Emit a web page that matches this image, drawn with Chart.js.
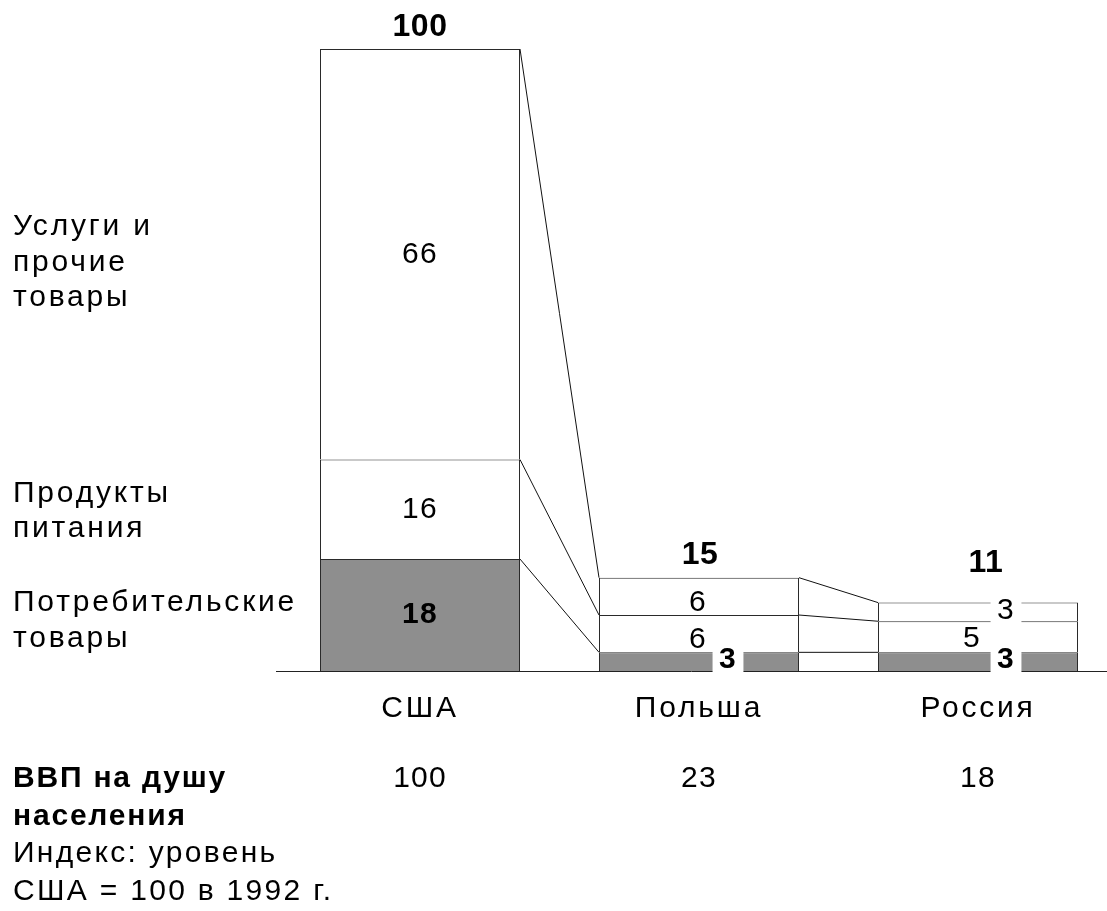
<!DOCTYPE html>
<html lang="ru">
<head>
<meta charset="utf-8">
<title>Потребление на душу населения</title>
<script src="https://cdn.jsdelivr.net/npm/chart.js@4.4.1/dist/chart.umd.min.js"></script>
<style>
  html, body { margin: 0; padding: 0; background: #fff; }
  #wrap { width: 1107px; height: 911px; position: relative; }
</style>
</head>
<body>
<div id="wrap"><canvas id="chart"></canvas></div>
<script>
// --- data ---
const countries = ['США', 'Польша', 'Россия'];
const consumerGoods = [18, 3, 3];
const food = [16, 6, 5];
const services = [66, 6, 3];
const totals = [100, 15, 11];
const gdpPerCapita = [100, 23, 18];
const segmentNames = [
    ['Потребительские', 'товары'],
    ['Продукты', 'питания'],
    ['Услуги и', 'прочие', 'товары']
];
const noteBold = ['ВВП на душу', 'населения'];
const noteText = ['Индекс: уровень', 'США = 100 в 1992 г.'];

// --- look ---
const FONT = '"Liberation Sans", Arial, Helvetica, sans-serif';
const GREY = '#8e8e8e';
const EDGE = '#2a2a2a';
const WORD_GAP = '2.8px';   // the original type is set a bit loose
const DIGIT_GAP = '1.2px';

// label nudges per bar / segment: [dx, dy, white box]
const nudge = [
    [[0, 0, false], [0, 0, false], [0, 0, false]],
    [[29, -2, true], [-1, 6, false], [-1, 6, false]],
    [[28, -2, true], [-6, 2, false], [28, -1, true]]
];
const totalNudge = [[0, -22], [1, -23], [8, -39]];
const nameNudge = [5.5, 2, 8];

const overlay = {
    id: 'overlay',
    beforeDraw(chart) {
        // tick labels pick this up
        chart.ctx.letterSpacing = WORD_GAP;
    },
    beforeDatasetsDraw(chart) {
        const ctx = chart.ctx;
        const y0 = Math.round(chart.scales.y.getPixelForValue(0));
        ctx.save();
        ctx.strokeStyle = '#222';
        ctx.lineWidth = 1;
        ctx.beginPath();
        ctx.moveTo(276, y0 + 0.5);
        ctx.lineTo(chart.width, y0 + 0.5);
        ctx.stroke();
        ctx.restore();
    },
    afterDatasetsDraw(chart) {
        const ctx = chart.ctx;
        const metas = [0, 1, 2].map(d => chart.getDatasetMeta(d));
        ctx.save();

        // connector lines between neighbouring bars
        ctx.strokeStyle = '#111';
        ctx.lineWidth = 1;
        for (let i = 0; i < countries.length - 1; i++) {
            metas.forEach(m => {
                const a = m.data[i], b = m.data[i + 1];
                ctx.beginPath();
                ctx.moveTo(a.x + a.width / 2, a.y);
                ctx.lineTo(b.x - b.width / 2, b.y);
                ctx.stroke();
            });
        }

        // segment values
        ctx.textAlign = 'center';
        ctx.textBaseline = 'middle';
        ctx.letterSpacing = DIGIT_GAP;
        const series = [consumerGoods, food, services];
        series.forEach((vals, d) => {
            vals.forEach((v, i) => {
                const el = metas[d].data[i];
                const [dx, dy, boxed] = nudge[i][d];
                const cx = el.x + dx, cy = (el.y + el.base) / 2 + dy;
                ctx.font = (d === 0 ? 'bold ' : '') + '30px ' + FONT;
                if (boxed) {
                    const w = ctx.measureText(String(v)).width + 13;
                    ctx.fillStyle = '#fff';
                    ctx.fillRect(cx - w / 2, cy - 13, w, 27);
                }
                ctx.fillStyle = '#000';
                ctx.fillText(String(v), cx, cy);
            });
        });

        // totals on top
        ctx.font = 'bold 32px ' + FONT;
        ctx.letterSpacing = '0.5px';
        totals.forEach((t, i) => {
            const el = metas[2].data[i];
            ctx.fillText(String(t), el.x + totalNudge[i][0], el.y + totalNudge[i][1]);
        });

        // GDP row
        ctx.font = '30px ' + FONT;
        ctx.letterSpacing = DIGIT_GAP;
        gdpPerCapita.forEach((g, i) => {
            ctx.fillText(String(g), chart.scales.x.getPixelForValue(i), 779);
        });

        // segment names at the left, centred on the US bar segments
        ctx.textAlign = 'left';
        ctx.letterSpacing = WORD_GAP;
        segmentNames.forEach((lines, d) => {
            const el = metas[d].data[0];
            const mid = (el.y + el.base) / 2 + nameNudge[d];
            const lh = 35.5;
            lines.forEach((s, k) => {
                ctx.fillText(s, 13, mid + (k - (lines.length - 1) / 2) * lh);
            });
        });

        // note at the bottom left
        ctx.font = 'bold 30px ' + FONT;
        ctx.letterSpacing = '1.8px';
        noteBold.forEach((s, k) => ctx.fillText(s, 13, 779 + k * 37.5));
        ctx.font = '30px ' + FONT;
        ctx.letterSpacing = '2.3px';
        noteText.forEach((s, k) => ctx.fillText(s, 13, 854 + k * 37.5));

        ctx.restore();
    }
};

new Chart(document.getElementById('chart'), {
    type: 'bar',
    data: {
        labels: countries,
        datasets: [
            { label: 'Потребительские товары', data: consumerGoods, backgroundColor: GREY },
            { label: 'Продукты питания', data: food, backgroundColor: '#fff' },
            { label: 'Услуги и прочие товары', data: services, backgroundColor: '#fff' }
        ]
    },
    options: {
        responsive: true,
        maintainAspectRatio: false,
        animation: false,
        events: [],
        layout: { padding: { top: 49, left: 420, right: 129, bottom: 172 } },
        datasets: {
            bar: {
                borderColor: EDGE,
                borderWidth: 1,
                categoryPercentage: 1,
                barPercentage: 200 / 279,
                clip: false
            }
        },
        plugins: { legend: { display: false }, tooltip: { enabled: false } },
        scales: {
            x: {
                stacked: true,
                offset: false,
                grid: { display: false },
                border: { display: false },
                ticks: { padding: 12, color: '#000', font: { family: FONT, size: 30, lineHeight: 1.2 } }
            },
            y: { stacked: true, display: false, min: 0, max: 100 }
        }
    },
    plugins: [overlay]
});
</script>
</body>
</html>
